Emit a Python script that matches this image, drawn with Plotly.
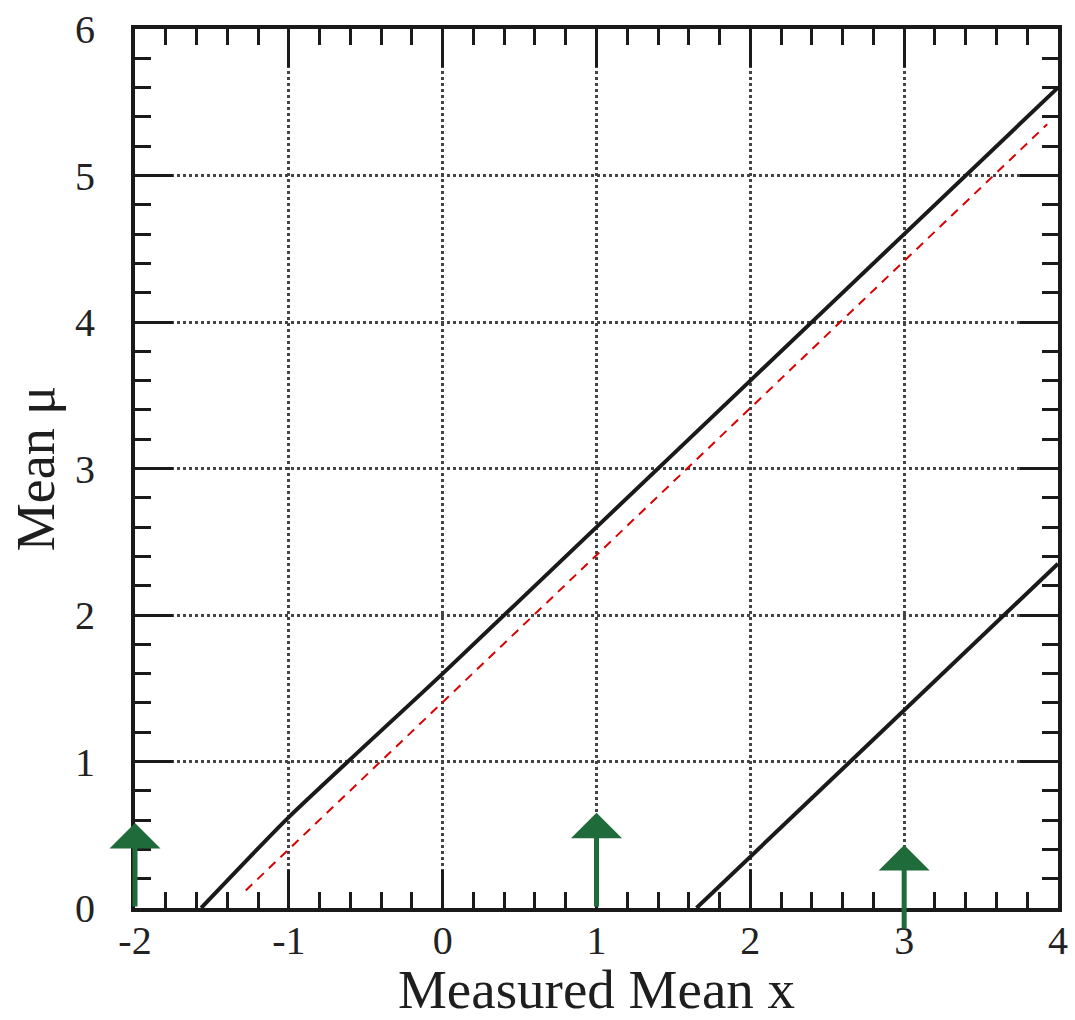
import plotly.graph_objects as go

# Confidence-belt boundaries (measured mean x vs. true mean mu)
upper_x = [-1.57, -1.0, 0.0, 1.0, 2.0, 3.0, 4.0]
upper_mu = [0.0, 0.62, 1.6, 2.6, 3.6, 4.6, 5.6]

lower_x = [1.65, 2.0, 3.0, 4.0]
lower_mu = [0.0, 0.35, 1.35, 2.35]

# Reference dashed line
dashed_x = [-1.28, 3.93]
dashed_mu = [0.12, 5.35]

# Vertical arrows marking example measurements
arrow_x = [-2, 1, 3]
arrow_base = [0.0, 0.0, -0.15]
arrow_tip = [0.58, 0.65, 0.43]

x_ticks = [-2, -1, 0, 1, 2, 3, 4]
y_ticks = [0, 1, 2, 3, 4, 5, 6]

SERIF = "Liberation Serif, Times New Roman, serif"
INK = "#1a1a1a"
GREEN = "#1f6b3a"

fig = go.Figure()

fig.add_trace(go.Scatter(x=upper_x, y=upper_mu, mode="lines",
                         line=dict(color=INK, width=4, shape="spline", smoothing=0.6),
                         showlegend=False))
fig.add_trace(go.Scatter(x=lower_x, y=lower_mu, mode="lines",
                         line=dict(color=INK, width=4), showlegend=False))
fig.add_trace(go.Scatter(x=dashed_x, y=dashed_mu, mode="lines",
                         line=dict(color="#d80000", width=2, dash="9px,7px"),
                         showlegend=False))

for xv, y0, y1 in zip(arrow_x, arrow_base, arrow_tip):
    fig.add_annotation(x=xv, y=y1, ax=xv, ay=y0, xref="x", yref="y",
                       axref="x", ayref="y", text="", showarrow=True,
                       arrowhead=1, arrowsize=1.7, arrowwidth=5,
                       arrowcolor=GREEN)

axis_common = dict(
    showline=True, linecolor=INK, linewidth=4, mirror="allticks",
    ticks="inside", ticklen=38, tickwidth=3, tickcolor=INK,
    showgrid=True, gridcolor="#444444", gridwidth=3, griddash="dot",
    zeroline=False,
    tickfont=dict(family=SERIF, size=40, color="#222222"),
    minor=dict(ticks="inside", ticklen=16, tickwidth=3, tickcolor=INK,
               dtick=0.2, showgrid=False),
)

fig.update_xaxes(range=[-2, 4], tickmode="array", tickvals=x_ticks,
                 ticktext=[str(v) for v in x_ticks], ticklabelstandoff=-6,
                 title=dict(text="Measured Mean x", standoff=6,
                            font=dict(family=SERIF, size=55, color="#1e1e1e")),
                 **axis_common)
fig.update_yaxes(range=[0, 6], tickmode="array", tickvals=y_ticks,
                 ticktext=[str(v) for v in y_ticks], ticklabelstandoff=28,
                 title=dict(text="Mean μ", standoff=4,
                            font=dict(family=SERIF, size=54, color="#1e1e1e")),
                 **axis_common)

fig.update_layout(
    width=1075, height=1020,
    margin=dict(l=135, r=7, t=25, b=112),
    paper_bgcolor="white", plot_bgcolor="white",
)

fig.write_html("out.html")
